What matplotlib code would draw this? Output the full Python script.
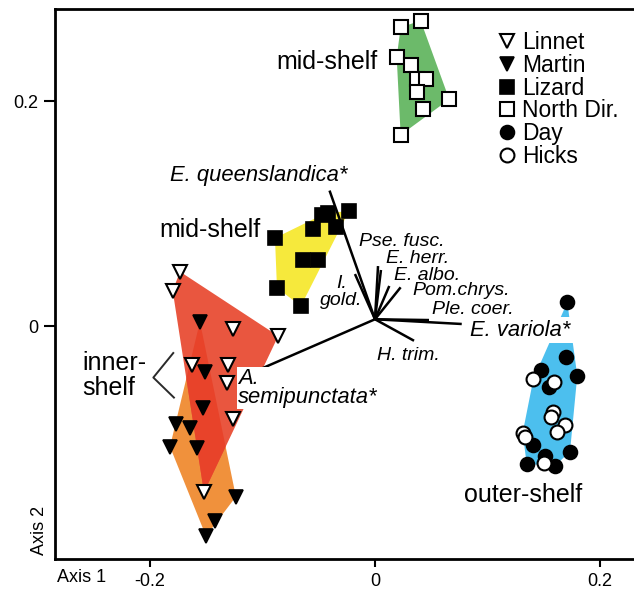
import numpy as np
import matplotlib.pyplot as plt
from matplotlib.patches import Polygon

plt.rcParams['font.family'] = ['Liberation Sans', 'DejaVu Sans']

# site scores (Axis 1, Axis 2)
linnet_x = [-0.1733, -0.1798, -0.1265, -0.0860, -0.1629, -0.1309, -0.1318, -0.1260, -0.1520]
linnet_y = [0.0483, 0.0314, -0.0029, -0.0089, -0.0347, -0.0347, -0.0509, -0.0829, -0.1478]

martin_x = [-0.1556, -0.1511, -0.1526, -0.1769, -0.1644, -0.1822, -0.1585, -0.1236, -0.1422, -0.1502]
martin_y = [0.0038, -0.0406, -0.0732, -0.0871, -0.0909, -0.1073, -0.1087, -0.1517, -0.1731, -0.1867]

lizard_x = [-0.0889, -0.0551, -0.0471, -0.0418, -0.0347, -0.0231, -0.0640, -0.0507, -0.0871, -0.0658]
lizard_y = [0.0782, 0.0862, 0.0987, 0.1004, 0.0880, 0.1022, 0.0587, 0.0587, 0.0338, 0.0178]

northdir_x = [0.0406, 0.0228, 0.0193, 0.0317, 0.0376, 0.0453, 0.0371, 0.0660, 0.0424, 0.0228]
northdir_y = [0.2714, 0.2655, 0.2388, 0.2320, 0.2193, 0.2193, 0.2083, 0.2015, 0.1926, 0.1698]

day_x = [0.1709, 0.1698, 0.1798, 0.1473, 0.1549, 0.1402, 0.1733, 0.1511, 0.1348, 0.1600]
day_y = [0.0211, -0.0273, -0.0442, -0.0391, -0.0540, -0.1058, -0.1117, -0.1156, -0.1227, -0.1242]

hicks_x = [0.1407, 0.1591, 0.1580, 0.1562, 0.1689, 0.1620, 0.1313, 0.1333, 0.1502]
hicks_y = [-0.0474, -0.0495, -0.0762, -0.0812, -0.0880, -0.0945, -0.0948, -0.0984, -0.1215]

# species vectors
vec_origin = (0.0, 0.006)
species = ['E. queenslandica*', 'I. gold.', 'Pse. fusc.', 'E. herr.', 'E. albo.',
           'Pom.chrys.', 'Ple. coer.', 'E. variola*', 'H. trim.', 'A. semipunctata*']
vec_x = [-0.0404, -0.0178, 0.0027, 0.0053, 0.0127, 0.0228, 0.0480, 0.0771, 0.0347, -0.1058]
vec_y = [0.1204, 0.0462, 0.0533, 0.0498, 0.0356, 0.0344, 0.0053, 0.0018, -0.0131, -0.0400]


def hull(xs, ys):
    # monotone chain convex hull
    pts = sorted(zip(xs, ys))

    def cross(o, a, b):
        return (a[0] - o[0]) * (b[1] - o[1]) - (a[1] - o[1]) * (b[0] - o[0])

    lower = []
    for p in pts:
        while len(lower) >= 2 and cross(lower[-2], lower[-1], p) <= 0:
            lower.pop()
        lower.append(p)
    upper = []
    for p in reversed(pts):
        while len(upper) >= 2 and cross(upper[-2], upper[-1], p) <= 0:
            upper.pop()
        upper.append(p)
    return np.array(lower[:-1] + upper[:-1])


fig = plt.figure(figsize=(6.34, 5.89), dpi=100)
ax = fig.add_axes([55 / 634, 1 - 559 / 589, 1 - 55 / 634, 550 / 589])
ax.set_xlim(-0.2844, 0.2302)
ax.set_ylim(-0.2071, 0.2818)

#hulls
ax.add_patch(Polygon(hull(northdir_x, northdir_y), closed=True, fc='#6cba6a', ec='none', zorder=1))
ax.add_patch(Polygon(hull(lizard_x, lizard_y), closed=True, fc='#f6e93c', ec='none', zorder=1))
ax.add_patch(Polygon(hull(day_x + hicks_x, day_y + hicks_y), closed=True, fc='#4cbfee', ec='none', zorder=1))
ax.add_patch(Polygon(hull(martin_x, martin_y), closed=True, fc='#f0913c', ec='none', zorder=1))
lin_patch = Polygon(hull(linnet_x, linnet_y), closed=True, fc='#e9563f', ec='none', zorder=1.1)
ax.add_patch(lin_patch)
overlap = Polygon(hull(martin_x, martin_y), closed=True, fc='#e8432a', ec='none', zorder=1.2)
ax.add_patch(overlap)
overlap.set_clip_path(lin_patch)

# vectors
for vx, vy in zip(vec_x, vec_y):
    ax.plot([vec_origin[0], vx], [vec_origin[1], vy], color='black', lw=1.8,
            solid_capstyle='butt', zorder=2)

# vector labels
lab = dict(style='italic', fontsize=14, zorder=3)
big = dict(style='italic', fontsize=15.8, zorder=3)
ax.text(-0.1031, 0.1342, species[0], ha='center', va='center', **big)
ax.text(-0.0298, 0.0305, 'I.\ngold.', ha='center', va='center', linespacing=1.0, **lab)
ax.text(0.0240, 0.0749, species[2], ha='center', va='center', **lab)
ax.text(0.0382, 0.0596, species[3], ha='center', va='center', **lab)
ax.text(0.0467, 0.0453, species[4], ha='center', va='center', **lab)
ax.text(0.0770, 0.0314, species[5], ha='center', va='center', **lab)
ax.text(0.0867, 0.0148, species[6], ha='center', va='center', **lab)
ax.text(0.1289, -0.0036, species[7], ha='center', va='center',
        bbox=dict(fc='white', ec='none', pad=2), **big)
ax.text(0.0298, -0.0258, species[8], ha='center', va='center', **lab)
ax.text(-0.1218, -0.0551, 'A.\nsemipunctata*', ha='left', va='center', linespacing=0.85,
        bbox=dict(fc='white', ec='none', pad=1), **big)

# group labels
ax.text(-0.0427, 0.2347, 'mid-shelf', ha='center', va='center', fontsize=18)
ax.text(-0.1467, 0.0853, 'mid-shelf', ha='center', va='center', fontsize=18)
ax.text(0.1316, -0.1502, 'outer-shelf', ha='center', va='center', fontsize=18)
ax.text(-0.2604, -0.0436, 'inner-\nshelf', ha='left', va='center', fontsize=18, linespacing=1.05)
ax.plot([-0.1793, -0.1970, -0.1787], [-0.0240, -0.0458, -0.0636], color='#2a2a2a', lw=1.4)

# sites
ms = 10
ax.plot(lizard_x, lizard_y, 's', ms=ms, mfc='black', mec='black', mew=1.2, zorder=4, label='Lizard')
ax.plot(northdir_x, northdir_y, 's', ms=ms, mfc='white', mec='black', mew=1.5, zorder=4, label='North Dir.')
ax.plot(linnet_x, linnet_y, 'v', ms=ms, mfc='white', mec='black', mew=1.5, zorder=4, label='Linnet')
ax.plot(martin_x, martin_y, 'v', ms=ms, mfc='black', mec='black', mew=1.2, zorder=4, label='Martin')
ax.plot(day_x, day_y, 'o', ms=ms, mfc='black', mec='black', mew=1.2, zorder=4, label='Day')
ax.plot(hicks_x, hicks_y, 'o', ms=ms, mfc='white', mec='black', mew=1.5, zorder=4, label='Hicks')

h, l = ax.get_legend_handles_labels()
order = ['Linnet', 'Martin', 'Lizard', 'North Dir.', 'Day', 'Hicks']
hd = {lb: hh for hh, lb in zip(h, l)}
fig.legend([hd[o] for o in order], order, loc='upper left',
           bbox_to_anchor=(497 / 634, 1 - 31 / 589), frameon=False, fontsize=16.5,
           handlelength=0.9, handletextpad=0.2, labelspacing=-0.01, borderpad=0, borderaxespad=0)

# axes
for s in ['left', 'bottom', 'top']:
    ax.spines[s].set_linewidth(2)
ax.spines['right'].set_visible(False)
ax.set_xticks([-0.2, 0, 0.2])
ax.set_xticklabels(['-0.2', '0', '0.2'])
ax.set_yticks([0, 0.2])
ax.set_yticklabels(['0', '0.2'])
ax.tick_params(direction='out', length=6, width=1.5, labelsize=13, pad=4)
ax.tick_params(axis='y', length=8)

fig.text(57 / 634, 1 - 578 / 589, 'Axis 1', ha='left', va='center', fontsize=13)
fig.text(40 / 634, 1 - 530 / 589, 'Axis 2', ha='center', va='center', fontsize=13, rotation=90)

fig.savefig('out.png', dpi=100)
